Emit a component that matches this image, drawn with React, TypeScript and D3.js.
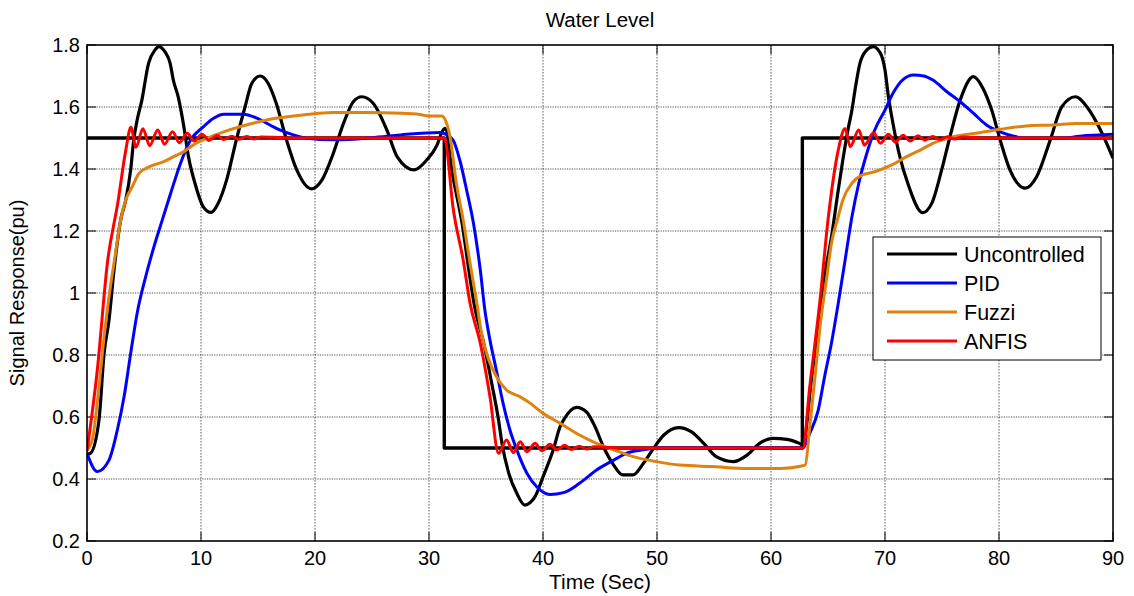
import React from 'react';
import * as d3 from 'd3';

// values: [time (s), response (pu)]
const xTicks = [0, 10, 20, 30, 40, 50, 60, 70, 80, 90];
const yTicks = [0.2, 0.4, 0.6, 0.8, 1, 1.2, 1.4, 1.6, 1.8];

const setpoint: [number, number][] = [
  [0, 1.5], [31.34, 1.5], [31.34, 0.5], [62.75, 0.5], [62.75, 1.5], [90, 1.5],
];

const uncontrolled: [number, number][] = [
  [0, 0.48], [0.3, 0.483], [1.05, 0.59], [1.5, 0.805], [1.93, 0.913], [2.37, 1.074], [2.95, 1.235],
  [3.4, 1.3], [3.83, 1.397], [4.1, 1.494], [4.4, 1.558], [4.8, 1.62], [5.4, 1.741], [5.96, 1.784],
  [6.3, 1.795], [6.84, 1.778], [7.3, 1.74], [7.57, 1.687], [8.0, 1.633], [8.45, 1.547], [8.9, 1.44],
  [9.47, 1.354], [10.2, 1.278], [10.88, 1.26], [11.5, 1.289], [12.25, 1.365], [13.1, 1.494],
  [13.86, 1.6], [14.45, 1.676], [15.2, 1.7], [15.9, 1.676], [16.6, 1.612], [17.5, 1.494],
  [18.4, 1.397], [19.7, 1.336], [20.6, 1.364], [21.6, 1.45], [22.5, 1.547], [23.36, 1.617],
  [24.1, 1.633], [25.1, 1.612], [26.3, 1.526], [27.2, 1.44], [28.7, 1.397], [29.8, 1.429],
  [30.7, 1.477], [31.15, 1.52], [31.4, 1.531], [32.1, 1.375], [32.9, 1.225], [33.45, 1.085],
  [34.0, 0.956], [34.8, 0.838], [35.5, 0.709], [36.1, 0.59], [36.4, 0.515], [37.0, 0.418],
  [37.7, 0.354], [38.4, 0.316], [39.3, 0.343], [40.0, 0.407], [40.9, 0.494], [41.5, 0.569],
  [41.8, 0.59], [42.95, 0.631], [43.8, 0.617], [44.56, 0.569], [45.3, 0.504], [46.2, 0.445],
  [47.0, 0.413], [47.9, 0.413], [48.8, 0.45], [49.7, 0.499], [50.6, 0.542], [51.9, 0.566],
  [53.0, 0.553], [54.1, 0.515], [55.2, 0.472], [56.7, 0.456], [57.9, 0.477], [59.0, 0.515],
  [60.2, 0.531], [61.4, 0.528], [62.5, 0.515], [62.8, 0.51], [63.57, 0.73], [64.15, 0.891],
  [64.7, 1.053], [65.3, 1.18], [65.9, 1.332], [66.3, 1.429], [66.8, 1.536], [67.1, 1.59],
  [67.37, 1.655], [67.8, 1.741], [68.4, 1.784], [68.97, 1.795], [69.6, 1.773], [70.0, 1.719],
  [70.3, 1.633], [70.7, 1.547], [71.3, 1.44], [72.0, 1.354], [73.3, 1.259], [74.1, 1.289],
  [74.97, 1.397], [75.7, 1.504], [76.6, 1.623], [77.75, 1.698], [78.6, 1.66], [79.36, 1.59],
  [80.1, 1.494], [80.96, 1.397], [82.3, 1.338], [83.3, 1.375], [84.5, 1.494], [85.5, 1.6],
  [86.7, 1.633], [87.8, 1.596], [88.9, 1.526], [90, 1.435],
];

const pid: [number, number][] = [
  [0, 0.483], [0.9, 0.424], [1.93, 0.461], [2.66, 0.558], [3.25, 0.665], [3.83, 0.805], [4.4, 0.935],
  [5.15, 1.053], [5.88, 1.15], [6.6, 1.235], [7.34, 1.322], [8.2, 1.418], [9.1, 1.494], [10.2, 1.536],
  [11.1, 1.564], [12.0, 1.577], [13.7, 1.577], [14.9, 1.564], [16.05, 1.542], [16.9, 1.526],
  [18.1, 1.51], [19.3, 1.499], [21.6, 1.494], [24.5, 1.499], [26.3, 1.506], [27.5, 1.51],
  [31.0, 1.518], [31.3, 1.515], [32.1, 1.494], [32.7, 1.429], [33.3, 1.332], [33.9, 1.225],
  [34.5, 1.074], [34.9, 0.945], [35.35, 0.848], [35.9, 0.752], [36.5, 0.644], [37.1, 0.558],
  [37.7, 0.494], [38.6, 0.418], [39.45, 0.375], [40.6, 0.35], [41.8, 0.356], [43.2, 0.386],
  [44.7, 0.429], [46.2, 0.461], [47.3, 0.483], [48.8, 0.494], [50, 0.5], [62.8, 0.5],
  [63.4, 0.547], [64.15, 0.623], [64.7, 0.73], [65.3, 0.838], [65.9, 0.967], [66.5, 1.106],
  [67.1, 1.246], [67.7, 1.354], [68.4, 1.45], [69.1, 1.526], [70.0, 1.59], [70.7, 1.644],
  [71.6, 1.689], [72.5, 1.703], [73.4, 1.7], [74.2, 1.687], [75.4, 1.65], [76.6, 1.617],
  [77.75, 1.58], [78.9, 1.542], [80.1, 1.52], [81.3, 1.506], [82.4, 1.499], [85.4, 1.499],
  [87.1, 1.506], [90, 1.512],
];

const fuzzi: [number, number][] = [
  [0, 0.494], [0.46, 0.526], [1.05, 0.698], [1.5, 0.859], [1.93, 0.988], [2.5, 1.128], [2.95, 1.235],
  [3.4, 1.3], [3.97, 1.343], [4.56, 1.386], [5.44, 1.407], [6.75, 1.424], [7.6, 1.44], [8.5, 1.456],
  [9.3, 1.477], [10.5, 1.499], [12.0, 1.52], [14.3, 1.545], [16.3, 1.562], [18.1, 1.571],
  [20.15, 1.579], [21.6, 1.582], [24.5, 1.582], [27.5, 1.58], [29.2, 1.576], [29.9, 1.571],
  [31.1, 1.571], [31.55, 1.547], [31.84, 1.504], [32.4, 1.354], [33.0, 1.235], [33.6, 1.096],
  [34.2, 0.967], [34.6, 0.87], [35.06, 0.805], [36.1, 0.719], [36.8, 0.687], [38.0, 0.665],
  [38.9, 0.644], [40.0, 0.612], [41.5, 0.58], [43.2, 0.542], [44.4, 0.52], [46.2, 0.494],
  [47.9, 0.472], [49.97, 0.456], [52.0, 0.445], [54.9, 0.44], [57.9, 0.434], [60.8, 0.434],
  [62.7, 0.442], [63.0, 0.445], [63.4, 0.569], [63.86, 0.73], [64.3, 0.891], [64.9, 1.053],
  [65.3, 1.16], [65.9, 1.246], [66.3, 1.3], [67.1, 1.354], [67.96, 1.38], [69.1, 1.391],
  [70.6, 1.413], [71.9, 1.44], [73.1, 1.461], [74.2, 1.483], [76.0, 1.504], [78.3, 1.517],
  [80.1, 1.528], [82.4, 1.539], [84.8, 1.542], [86.8, 1.547], [90, 1.547],
];

const anfis: [number, number][] = [
  [0, 0.49], [0.9, 0.75], [1.8, 1.1], [2.7, 1.29], [3.4, 1.46], [3.85, 1.535], [4.3, 1.47],
  [4.9, 1.53], [5.5, 1.475], [6.2, 1.526], [6.8, 1.48], [7.5, 1.52], [8.1, 1.485], [8.8, 1.515],
  [9.4, 1.49], [10.1, 1.512], [10.7, 1.492], [11.4, 1.508], [12.0, 1.495], [12.7, 1.506],
  [13.3, 1.496], [14.0, 1.505], [14.6, 1.497], [15.3, 1.503], [16.6, 1.502], [18, 1.5], [31.3, 1.5],
  [31.45, 1.49], [32.1, 1.278], [33.0, 1.106], [33.6, 0.967], [34.5, 0.838], [35.35, 0.665],
  [36.1, 0.483], [36.8, 0.526], [37.4, 0.485], [38.0, 0.52], [38.6, 0.488], [39.3, 0.515],
  [39.9, 0.491], [40.6, 0.512], [41.2, 0.494], [41.9, 0.509], [42.5, 0.495], [43.2, 0.506],
  [43.8, 0.497], [44.5, 0.504], [45.8, 0.502], [47, 0.5], [62.8, 0.5], [63.4, 0.698],
  [64.3, 0.977], [65.0, 1.235], [65.9, 1.461], [66.5, 1.531], [66.95, 1.472], [67.7, 1.526],
  [68.2, 1.477], [69.0, 1.517], [69.6, 1.483], [70.3, 1.512], [70.9, 1.487], [71.6, 1.509],
  [72.2, 1.49], [72.9, 1.507], [73.5, 1.493], [74.2, 1.505], [74.8, 1.495], [75.5, 1.504],
  [76.1, 1.497], [76.8, 1.503], [78, 1.501], [80, 1.5], [90, 1.5],
];

const legendNames = ['Uncontrolled', 'PID', 'Fuzzi', 'ANFIS'];
const legendColors = ['#000000', '#0000ff', '#e0820e', '#ff0000'];

const W = 1134;
const H = 596;
const margin = { left: 87, right: 21, top: 45, bottom: 55 };
const font = '"Liberation Sans", Arial, sans-serif';

export default function App() {
  const x = d3.scaleLinear().domain([0, 90]).range([margin.left, W - margin.right]);
  const y = d3.scaleLinear().domain([0.2, 1.8]).range([H - margin.bottom, margin.top]);
  const line = d3.line<[number, number]>().x(d => x(d[0])).y(d => y(d[1])).curve(d3.curveMonotoneX);
  const stepLine = d3.line<[number, number]>().x(d => x(d[0])).y(d => y(d[1]));

  const x0 = x(0), x1 = x(90), y0 = y(0.2), y1 = y(1.8);

  const series = [
    { data: uncontrolled, color: legendColors[0], w: 3.2 },
    { data: pid, color: legendColors[1], w: 3 },
    { data: fuzzi, color: legendColors[2], w: 3 },
    { data: anfis, color: legendColors[3], w: 3 },
  ];

  const lg = { x: 873, y: 237, w: 228, h: 123 };

  return (
    <svg width={W} height={H} style={{ position: 'absolute', left: 0, top: 0, background: '#fff' }} fontFamily={font}>
      <defs>
        <clipPath id="plot">
          <rect x={x0} y={y1 - 2} width={x1 - x0} height={y0 - y1 + 4} />
        </clipPath>
      </defs>

      {/* grid */}
      {xTicks.slice(1, -1).map(t => (
        <line key={'gx' + t} x1={x(t)} x2={x(t)} y1={y1} y2={y0} stroke="#777" strokeWidth={1.2} strokeDasharray="1.5,1.5" />
      ))}
      {yTicks.slice(1, -1).map(t => (
        <line key={'gy' + t} x1={x0} x2={x1} y1={y(t)} y2={y(t)} stroke="#222" strokeWidth={0.8} strokeDasharray="1.2,1.2" />
      ))}

      {/* ticks inside the box */}
      {xTicks.map(t => (
        <g key={'tx' + t}>
          <line x1={x(t)} x2={x(t)} y1={y0} y2={y0 - 9} stroke="#000" strokeWidth={1} />
          <line x1={x(t)} x2={x(t)} y1={y1} y2={y1 + 9} stroke="#000" strokeWidth={1} />
          <text x={x(t)} y={y0 + 24} textAnchor="middle" fontSize={20}>{t}</text>
        </g>
      ))}
      {yTicks.map(t => (
        <g key={'ty' + t}>
          <line x1={x0} x2={x0 + 9} y1={y(t)} y2={y(t)} stroke="#000" strokeWidth={1} />
          <line x1={x1} x2={x1 - 9} y1={y(t)} y2={y(t)} stroke="#000" strokeWidth={1} />
          <text x={x0 - 7} y={y(t) + 7} textAnchor="end" fontSize={20}>{String(t)}</text>
        </g>
      ))}

      {/* data */}
      <g clipPath="url(#plot)" fill="none" strokeLinejoin="round">
        <path d={stepLine(setpoint) || ''} stroke="#000" strokeWidth={3.4} />
        {series.map((s, i) => (
          <path key={i} d={line(s.data) || ''} stroke={s.color} strokeWidth={s.w} />
        ))}
      </g>

      {/* box */}
      <rect x={x0} y={y1} width={x1 - x0} height={y0 - y1} fill="none" stroke="#000" strokeWidth={1.6} />

      {/* labels */}
      <text x={(x0 + x1) / 2} y={27} textAnchor="middle" fontSize={20.5}>Water Level</text>
      <text x={(x0 + x1) / 2} y={589} textAnchor="middle" fontSize={21}>Time (Sec)</text>
      <text transform={`translate(24,${(y0 + y1) / 2}) rotate(-90)`} textAnchor="middle" fontSize={20}>Signal Response(pu)</text>

      {/* legend */}
      <rect x={lg.x} y={lg.y} width={lg.w} height={lg.h} fill="#fff" stroke="#000" strokeWidth={1} />
      {legendNames.map((n, i) => {
        const cy = lg.y + 17 + i * 29;
        return (
          <g key={n}>
            <line x1={887} x2={957} y1={cy} y2={cy} stroke={legendColors[i]} strokeWidth={3} />
            <text x={964} y={cy + 8} fontSize={21.5}>{n}</text>
          </g>
        );
      })}
    </svg>
  );
}
